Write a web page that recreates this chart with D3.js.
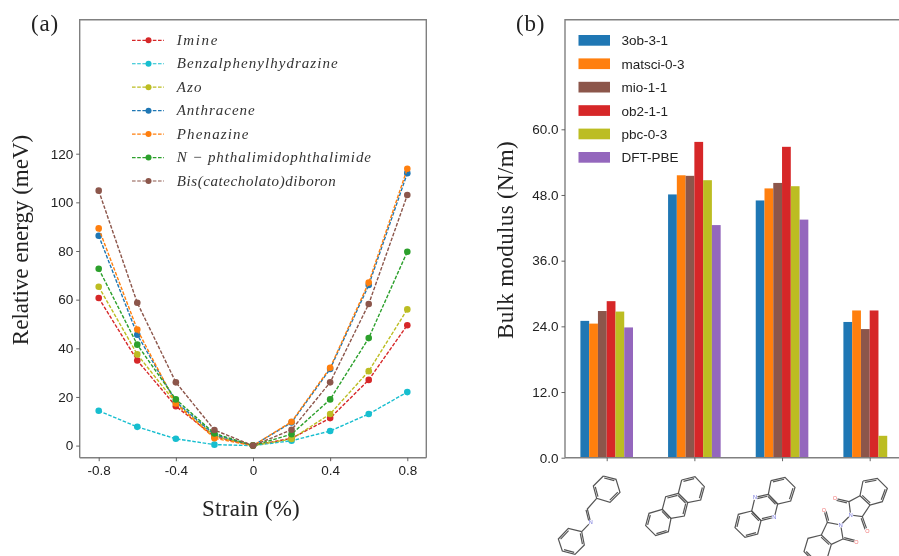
<!DOCTYPE html>
<html>
<head>
<meta charset="utf-8">
<script src="https://cdnjs.cloudflare.com/ajax/libs/d3/7.8.5/d3.min.js"></script>
<style>
    html, body { margin: 0; padding: 0; background: #fff; }
    svg { display: block; filter: blur(0.35px); }
    .tick text { font-family: "Liberation Sans", sans-serif; font-size: 13.5px; fill: #222; }
    .title { font-family: "Liberation Serif", serif; font-size: 23px; fill: #222; }
    .mol { fill: none; stroke: #555; stroke-width: 1.2; }
</style>
</head>
<body>
<svg id="chart" width="899" height="556"></svg>
<script>
// (a) relative energy vs strain
const strain = [-0.8, -0.6, -0.4, -0.2, 0, 0.2, 0.4, 0.6, 0.8];
const lineNames = ["Imine", "Benzalphenylhydrazine", "Azo", "Anthracene", "Phenazine", "N − phthalimidophthalimide", "Bis(catecholato)diboron"];
const lineColors = ["#d62728", "#17becf", "#bcbd22", "#1f77b4", "#ff7f0e", "#2ca02c", "#8c564b"];
const imine = [60.7, 35, 16.2, 3.7, 0, 3, 11.3, 27, 49.5];
const benzal = [14.3, 7.7, 2.8, 0.4, 0, 2, 6, 13, 22];
const azo = [65.3, 37.5, 17.5, 4, 0, 2.7, 13, 30.6, 56];
const anthracene = [86.3, 45.6, 18, 4.5, 0, 9.5, 31.5, 66, 112];
const phenazine = [89.3, 47.7, 17.3, 3, 0, 9.8, 32, 67, 113.8];
const nphth = [72.7, 41.5, 19, 5, 0, 4.7, 19, 44.2, 79.7];
const bis = [104.8, 58.7, 26, 6.4, 0, 6.5, 26, 58.2, 103];
const lineSeries = [imine, benzal, azo, anthracene, phenazine, nphth, bis];
const strainTicks = [-0.8, -0.4, 0, 0.4, 0.8];
const energyTicks = [0, 20, 40, 60, 80, 100, 120];

// (b) bulk modulus bars
const barNames = ["3ob-3-1", "matsci-0-3", "mio-1-1", "ob2-1-1", "pbc-0-3", "DFT-PBE"];
const barColors = ["#1f77b4", "#ff7f0e", "#8c564b", "#d62728", "#bcbd22", "#9467bd"];
const ob3 = [25, 48.1, 47, 24.8];
const matsci = [24.5, 51.6, 49.2, 26.9];
const mio = [26.8, 51.5, 50.2, 23.5];
const ob2 = [28.6, 57.7, 56.8, 26.9];
const pbc = [26.7, 50.7, 49.6, 4];
const dft = [23.8, 42.5, 43.5, null];
const barSeries = [ob3, matsci, mio, ob2, pbc, dft];
const modulusTicks = [0, 12, 24, 36, 48, 60];

const svg = d3.select("#chart");

// panel a
const xa = d3.scaleLinear().domain([-0.8, 0.8]).range([98.7, 407.3]);
const ya = d3.scaleLinear().domain([0, 120]).range([445.6, 153.7]);

function frame(x0, x1, y0, y1) {
    svg.append("path")
        .attr("d", "M" + x0 + "," + y1 + "V" + y0 + "H" + x1 + (x1 < 899 ? "V" + y1 : ""))
        .attr("fill", "none").attr("stroke", "#808080").attr("stroke-width", 1.4);
}
function styleAxis(g) {
    g.selectAll(".domain").attr("stroke", "#808080").attr("stroke-width", 1.4);
    g.selectAll(".tick line").attr("stroke", "#555").attr("stroke-width", 0.9);
}

frame(79.7, 426.3, 19.7, 457.7);
svg.append("g").attr("transform", "translate(79.7,0)")
    .call(d3.axisLeft(ya).tickValues(energyTicks).tickSize(3.5).tickPadding(3).tickFormat(d3.format("d")))
    .call(g => g.select(".domain").remove())
    .call(styleAxis);
svg.append("g").attr("transform", "translate(0,457.7)")
    .call(d3.axisBottom(xa).tickValues(strainTicks).tickSize(3.5).tickPadding(4).tickFormat(d => d === 0 ? "0" : d3.format(".1f")(d).replace("−", "-")))
    .call(g => g.select(".domain").attr("d", "M79.7,0H426.3"))
    .call(styleAxis);

const line = d3.line().x((d, i) => xa(strain[i])).y(d => ya(d));
lineSeries.forEach((vals, k) => {
    svg.append("path").attr("d", line(vals))
        .attr("fill", "none").attr("stroke", lineColors[k])
        .attr("stroke-width", 1.4).attr("stroke-dasharray", "3.6 1.6");
    svg.append("g").selectAll("circle").data(vals).enter().append("circle")
        .attr("cx", (d, i) => xa(strain[i])).attr("cy", d => ya(d))
        .attr("r", 3.3).attr("fill", lineColors[k]);
});

// legend a, label widths fitted to the italic math font of the picture
const lineLabelWidths = [40.7, 161, 24.7, 78, 71.7, 194.3, 159];
lineNames.forEach((name, k) => {
    const y = 40.3 + k * 23.45;
    svg.append("line").attr("x1", 132).attr("x2", 164).attr("y1", y).attr("y2", y)
        .attr("stroke", lineColors[k]).attr("stroke-width", 1.2).attr("stroke-dasharray", "3.6 1.6");
    svg.append("circle").attr("cx", 148.5).attr("cy", y).attr("r", 3).attr("fill", lineColors[k]);
    svg.append("text").attr("x", 176.7).attr("y", y + 4.6).text(name)
        .attr("font-family", "Liberation Serif, serif").attr("font-style", "italic")
        .attr("font-size", 15).attr("fill", "#333")
        .attr("textLength", lineLabelWidths[k]).attr("lengthAdjust", "spacing");
});

svg.append("text").attr("class", "title").attr("x", 31).attr("y", 31).attr("letter-spacing", 0.8).text("(a)");
svg.append("text").attr("class", "title").attr("text-anchor", "middle")
    .attr("transform", "translate(28,240) rotate(-90)").text("Relative energy (meV)");
svg.append("text").attr("class", "title").attr("text-anchor", "middle")
    .attr("x", 251).attr("y", 516).attr("letter-spacing", 0.3).text("Strain (%)");

// panel b
const xb = d3.scaleLinear().domain([0, 3]).range([606.7, 869.7]);
const yb = d3.scaleLinear().domain([0, 60]).range([457.7, 129.3]);
const barW = xb(0.1) - xb(0);

frame(565, 899, 19.7, 457.7);
svg.append("g").attr("transform", "translate(565,0)")
    .call(d3.axisLeft(yb).tickValues(modulusTicks).tickSize(3.5).tickPadding(3).tickFormat(d3.format(".1f")))
    .call(g => g.select(".domain").remove())
    .call(styleAxis);

barSeries.forEach((vals, k) => {
    svg.append("g").selectAll("rect").data(vals.filter(v => v !== null)).enter().append("rect")
        .attr("x", (d, i) => xb(i + (k - 3) * 0.1))
        .attr("y", d => yb(d))
        .attr("width", barW)
        .attr("height", d => yb(0) - yb(d))
        .attr("fill", barColors[k]);
});
svg.append("g").attr("transform", "translate(0,457.7)")
    .call(d3.axisBottom(xb).tickValues([0, 1, 2, 3]).tickSize(3.5).tickFormat(""))
    .call(g => g.select(".domain").attr("d", "M565,0H899"))
    .call(styleAxis);

// legend b
barNames.forEach((name, k) => {
    const y = 35 + k * 23.4;
    svg.append("rect").attr("x", 578.5).attr("y", y).attr("width", 31.5).attr("height", 10.7).attr("fill", barColors[k]);
    svg.append("text").attr("x", 621.5).attr("y", y + 10.3).text(name)
        .attr("font-family", "Liberation Sans, sans-serif").attr("font-size", 13.5).attr("fill", "#222");
});

svg.append("text").attr("class", "title").attr("x", 516).attr("y", 31).attr("letter-spacing", 0.8).text("(b)");
svg.append("text").attr("class", "title").attr("text-anchor", "middle").attr("letter-spacing", 0.35)
    .attr("transform", "translate(513,240) rotate(-90)").text("Bulk modulus (N/m)");

// molecule sketches under the bars; coordinates are 3x crop pixels from each origin
function molecule(ox, oy, bonds, doubles, atoms) {
    const p = q => [ox + q[0] / 3, oy + q[1] / 3];
    const g = svg.append("g").attr("class", "mol");
    bonds.forEach(chain => {
        g.append("path").attr("d", d3.line()(chain.map(p)));
    });
    // second stroke of a double bond, pushed toward a given centre
    doubles.forEach(b => {
        const a = p(b[0]), c = p(b[1]), m = p(b[2]);
        const mx = (a[0] + c[0]) / 2, my = (a[1] + c[1]) / 2;
        const dx = m[0] - mx, dy = m[1] - my, len = Math.hypot(dx, dy);
        const ox2 = dx / len * 1.7, oy2 = dy / len * 1.7;
        g.append("path").attr("d", d3.line()([
            [a[0] + ox2 + (c[0] - a[0]) * 0.1, a[1] + oy2 + (c[1] - a[1]) * 0.1],
            [c[0] + ox2 - (c[0] - a[0]) * 0.1, c[1] + oy2 - (c[1] - a[1]) * 0.1]]));
    });
    atoms.forEach(at => {
        const q = p(at);
        svg.append("circle").attr("cx", q[0]).attr("cy", q[1]).attr("r", 2.6).attr("fill", "#fff");
        svg.append("text").attr("x", q[0]).attr("y", q[1] + 1.9).attr("text-anchor", "middle")
            .attr("font-family", "Liberation Sans, sans-serif").attr("font-size", 5.5)
            .attr("fill", at[2] === "N" ? "#6a6ad8" : "#f07070").text(at[2]);
    });
}
function closed(pts) { return pts.concat([pts[0]]); }

// imine
const m1a = [[160,33],[198,43],[210,82],[180,112],[140,100],[130,63]];
const m1b = [[95,200],[103,240],[75,268],[37,258],[25,222],[55,190]];
molecule(550, 465, [closed(m1a), closed(m1b), [[140,100],[112,132],[122,172],[95,200]]],
    [[[160,33],[198,43],[170,72]], [[210,82],[180,112],[170,72]], [[140,100],[130,63],[170,72]],
     [[95,200],[103,240],[65,229]], [[75,268],[37,258],[65,229]], [[25,222],[55,190],[65,229]],
     [[112,132],[122,172],[90,145]]],
    [[122,172,"N"]]);

// anthracene
const m2a = [[125,45],[165,35],[193,65],[182,105],[143,113],[115,85]];
const m2b = [[115,85],[143,113],[133,153],[93,160],[67,133],[77,95]];
const m2c = [[67,133],[93,160],[85,200],[47,212],[17,182],[27,145]];
molecule(640, 465, [closed(m2a), closed(m2b), closed(m2c)],
    [[[125,45],[165,35],[155,75]], [[193,65],[182,105],[155,75]], [[115,85],[143,113],[105,124]],
     [[77,95],[115,85],[105,124]], [[143,113],[133,153],[105,124]], [[67,133],[93,160],[55,172]],
     [[85,200],[47,212],[55,172]], [[17,182],[27,145],[55,172]]],
    []);

// phenazine
const m3a = [[138,47],[180,37],[210,67],[197,108],[158,117],[130,88]];
const m3b = [[130,88],[158,117],[148,157],[108,167],[80,138],[90,97]];
const m3c = [[80,138],[108,167],[98,207],[60,217],[30,188],[40,148]];
molecule(725, 465, [closed(m3a), closed(m3b), closed(m3c)],
    [[[138,47],[180,37],[170,77]], [[210,67],[197,108],[170,77]], [[130,88],[158,117],[119,127]],
     [[90,97],[130,88],[119,127]], [[148,157],[108,167],[119,127]], [[80,138],[108,167],[70,178]],
     [[98,207],[60,217],[70,178]], [[30,188],[40,148],[70,178]]],
    [[90,97,"N"], [148,157,"N"]]);

// N-phthalimidophthalimide
const m4a = [[192,48],[235,40],[265,70],[250,110],[213,120],[183,92]];
const m4b = [[67,210],[97,238],[85,278],[45,290],[15,260],[27,220]];
molecule(799, 465, [closed(m4a), closed(m4b),
    [[183,92],[150,110],[155,150],[190,155],[213,120]],
    [[150,110],[108,100]], [[190,155],[205,197]], [[155,150],[125,180]],
    [[67,210],[85,172],[125,180],[132,222],[97,238]],
    [[85,172],[75,135]], [[132,222],[172,232]]],
    [[[192,48],[235,40],[225,80]], [[265,70],[250,110],[225,80]], [[183,92],[213,120],[225,80]],
     [[150,110],[108,100],[120,125]], [[190,155],[205,197],[170,180]],
     [[85,172],[75,135],[95,150]], [[132,222],[172,232],[150,205]],
     [[67,210],[97,238],[56,250]], [[45,290],[15,260],[56,250]]],
    [[155,150,"N"], [125,180,"N"], [108,100,"O"], [205,197,"O"], [75,135,"O"], [172,232,"O"]]);
</script>
</body>
</html>
